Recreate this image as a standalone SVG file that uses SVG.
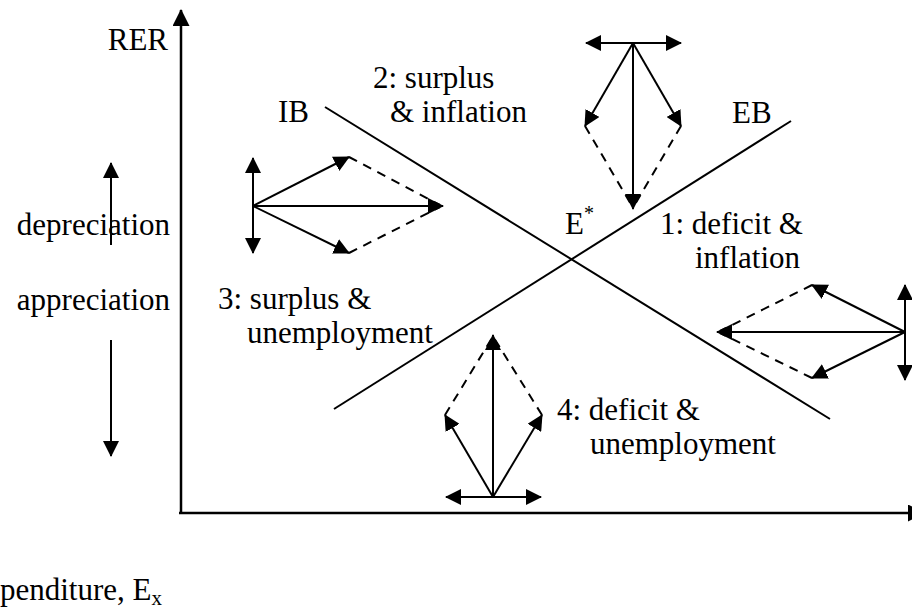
<svg xmlns="http://www.w3.org/2000/svg" width="912" height="609" viewBox="0 0 912 609">
<style>
text{font-family:"Liberation Serif","Times New Roman",serif;font-size:31px;fill:#000}
.ln{stroke:#000;stroke-width:2;fill:none}
.ax{stroke:#000;stroke-width:2.5;fill:none}
.ds{stroke:#000;stroke-width:2;fill:none;stroke-dasharray:9,7}
.ar{marker-end:url(#ah)}
.ar2{marker-end:url(#ah);marker-start:url(#ahs)}
</style>
<defs>
<marker id="ah" markerUnits="userSpaceOnUse" markerWidth="16" markerHeight="16" viewBox="0 0 16 16" refX="15" refY="8" orient="auto"><path d="M0,0 L16,8 L0,16 z" fill="#000"/></marker>
<marker id="ahs" markerUnits="userSpaceOnUse" markerWidth="16" markerHeight="16" viewBox="0 0 16 16" refX="1" refY="8" orient="auto"><path d="M16,0 L0,8 L16,16 z" fill="#000"/></marker>
<marker id="axh" markerUnits="userSpaceOnUse" markerWidth="17" markerHeight="17" viewBox="0 0 17 17" refX="16" refY="8.5" orient="auto"><path d="M0,0 L17,8.5 L0,17 z" fill="#000"/></marker>
</defs>
<rect width="912" height="609" fill="#fff"/>
<g id="connectors">
<g id="axes">
<line class="ax" x1="181" y1="514" x2="181" y2="10" marker-end="url(#axh)"/>
<line class="ax" x1="179" y1="513" x2="924" y2="513" marker-end="url(#axh)"/>
</g>
<line id="IB" class="ln" x1="325" y1="107" x2="830" y2="419"/>
<line id="EB" class="ln" x1="334" y1="409" x2="791" y2="121"/>
<g id="rer-arrows">
<line class="ln ar" x1="111" y1="245" x2="111" y2="163"/>
<line class="ln ar" x1="111" y1="340" x2="111" y2="456"/>
</g>
</g>
<g id="cluster3">
<line class="ln ar2" x1="253" y1="158" x2="253" y2="253"/>
<line class="ln ar" x1="253" y1="206" x2="349" y2="157"/>
<line class="ln ar" x1="253" y1="206" x2="349" y2="253"/>
<line class="ln ar" x1="253" y1="206" x2="443" y2="206"/>
<line class="ds" x1="349" y1="157" x2="440" y2="205"/>
<line class="ds" x1="349" y1="253" x2="440" y2="207"/>
</g>
<g id="cluster2">
<line class="ln ar2" x1="586" y1="43" x2="681" y2="43"/>
<line class="ln ar" x1="633" y1="43" x2="585" y2="126"/>
<line class="ln ar" x1="633" y1="43" x2="681" y2="126"/>
<line class="ln ar" x1="633" y1="43" x2="633" y2="209"/>
<line class="ds" x1="585" y1="126" x2="632" y2="206"/>
<line class="ds" x1="681" y1="126" x2="634" y2="206"/>
</g>
<g id="cluster1">
<line class="ln ar2" x1="905" y1="285" x2="905" y2="380"/>
<line class="ln ar" x1="905" y1="332" x2="812" y2="285"/>
<line class="ln ar" x1="905" y1="332" x2="812" y2="378"/>
<line class="ln ar" x1="905" y1="332" x2="717" y2="332"/>
<line class="ds" x1="812" y1="285" x2="720" y2="331"/>
<line class="ds" x1="812" y1="378" x2="720" y2="333"/>
</g>
<g id="cluster4">
<line class="ln ar2" x1="446" y1="497" x2="541" y2="497"/>
<line class="ln ar" x1="493" y1="497" x2="445" y2="415"/>
<line class="ln ar" x1="493" y1="497" x2="542" y2="415"/>
<line class="ln ar" x1="493" y1="497" x2="493" y2="335"/>
<line class="ds" x1="445" y1="415" x2="492" y2="338"/>
<line class="ds" x1="542" y1="415" x2="494" y2="338"/>
</g>
<g id="labels">
<text id="RER" x="168" y="50" text-anchor="end">RER</text>
<text id="IB-label" x="278" y="122">IB</text>
<text id="EB-label" x="732" y="123">EB</text>
<text id="Estar" x="565" y="234">E<tspan dy="-14" font-size="20">*</tspan></text>
<text id="region2" x="373" y="88">2: surplus<tspan x="390" y="122">&amp; inflation</tspan></text>
<text id="region1" x="660" y="234">1: deficit &amp;<tspan x="695" y="268">inflation</tspan></text>
<text id="region3" x="218" y="309">3: surplus &amp;<tspan x="247" y="343">unemployment</tspan></text>
<text id="region4" x="557" y="420">4: deficit &amp;<tspan x="590" y="454">unemployment</tspan></text>
<text id="depreciation" x="170" y="235" text-anchor="end">depreciation</text>
<text id="appreciation" x="170" y="310" text-anchor="end">appreciation</text>
<text id="xlabel" x="0" y="600" font-size="32">penditure, E<tspan dy="5" font-size="21">x</tspan></text>
</g>
</svg>
